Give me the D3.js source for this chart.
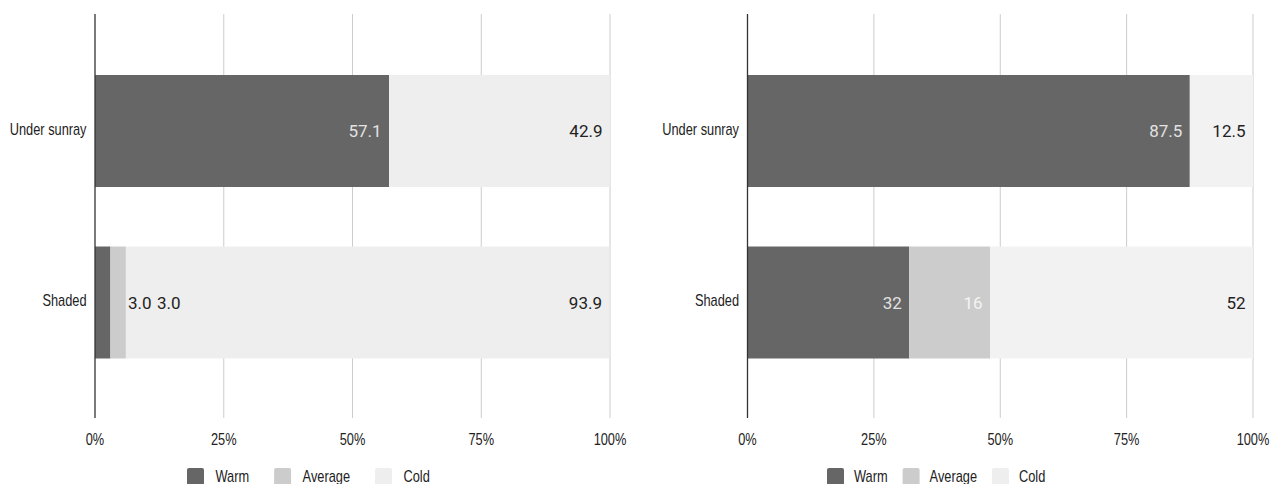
<!DOCTYPE html>
<html>
<head>
<meta charset="utf-8">
<script src="https://cdn.jsdelivr.net/npm/d3@7"></script>
<style>
  html, body { margin: 0; padding: 0; background: #fff; }
  svg { display: block; }
</style>
</head>
<body>
<svg id="chart" width="1271" height="484"></svg>
<script>
// ---- data ----
const categories = ["Under sunray", "Shaded"];
const seriesNames = ["Warm", "Average", "Cold"];
const tickValues = [0, 25, 50, 75, 100];
const tickLabels = ["0%", "25%", "50%", "75%", "100%"];

const leftWarm    = [57.1, 3.0];
const leftAverage = [0, 3.0];
const leftCold    = [42.9, 93.9];

const rightWarm    = [87.5, 32];
const rightAverage = [0, 16];
const rightCold    = [12.5, 52];

// ---- styles ----
const seriesColors = ["#666666", "#cccccc", "#eeeeee"];
const insideLabelColors = ["#e2e2e2", "#f4f4f4", "#222222"];
const SX = 0.8; // horizontal compression of axis/legend text seen in the reference

const svg = d3.select("#chart");

function drawChart(cfg) {
  const g = svg.append("g");
  const x = d3.scaleLinear().domain([0, 100]).range([cfg.x0, cfg.x1]);
  const y = d3.scaleBand().domain(categories).range([45.25, 388.25])
              .paddingInner(0.347).paddingOuter(0.1735);
  const gridTop = 14, gridBottom = 418;

  const rows = categories.map((c, i) => ({
    cat: c, Warm: cfg.warm[i], Average: cfg.average[i], Cold: cfg.cold[i]
  }));
  const stacked = d3.stack().keys(seriesNames)(rows);

  // gridlines
  g.append("g").selectAll("line").data(tickValues.slice(1)).join("line")
    .attr("x1", d => x(d)).attr("x2", d => x(d))
    .attr("y1", gridTop).attr("y2", gridBottom)
    .attr("stroke", "#cccccc").attr("stroke-width", 1);

  // bars
  const colors = cfg.colors;
  stacked.forEach((layer, si) => {
    g.append("g").selectAll("rect").data(layer.filter(d => d[1] - d[0] > 0)).join("rect")
      .attr("x", d => x(d[0]))
      .attr("width", d => x(d[1]) - x(d[0]))
      .attr("y", d => y(d.data.cat))
      .attr("height", y.bandwidth())
      .attr("fill", colors[si]);
  });

  // zero axis line
  g.append("line")
    .attr("x1", x(0)).attr("x2", x(0))
    .attr("y1", gridTop).attr("y2", gridBottom)
    .attr("stroke", "#333333").attr("stroke-width", 1.3);

  // data labels
  const labelFont = "Roboto, 'Noto Sans', sans-serif";
  categories.forEach((cat, ci) => {
    const cy = y(cat) + y.bandwidth() / 2;
    const segs = stacked.map((layer, si) => ({
      si, x0: x(layer[ci][0]), x1: x(layer[ci][1]), v: layer[ci][1] - layer[ci][0]
    })).filter(s => s.v > 0);
    const narrowEnd = d3.max(segs.filter(s => s.x1 - s.x0 < 40), s => s.x1);
    let outsideX = narrowEnd !== undefined ? narrowEnd + 2 : 0;
    segs.forEach(s => {
      const txt = cfg.fmt(s.v);
      if (s.x1 - s.x0 < 40) {
        g.append("text")
          .attr("x", outsideX).attr("y", cy)
          .attr("dy", "0.36em")
          .attr("text-anchor", "start")
          .attr("font-family", labelFont).attr("font-size", 17)
          .attr("fill", "#222222")
          .text(txt);
        outsideX += 29;
      } else {
        g.append("text")
          .attr("x", s.x1 - 7.5).attr("y", cy)
          .attr("dy", "0.36em")
          .attr("text-anchor", "end")
          .attr("font-family", labelFont).attr("font-size", 17)
          .attr("fill", insideLabelColors[s.si])
          .text(txt);
      }
    });
  });

  // category labels
  const axisFont = "'Liberation Sans', Arial, sans-serif";
  g.append("g").selectAll("text").data(categories).join("text")
    .attr("transform", d => `translate(${x(0) - 8.5},${y(d) + y.bandwidth() / 2 + 3.5}) scale(${SX},1)`)
    .attr("text-anchor", "end")
    .attr("font-family", axisFont).attr("font-size", 16)
    .attr("fill", "#222222")
    .text(d => d);

  // tick labels
  g.append("g").selectAll("text").data(tickValues).join("text")
    .attr("transform", d => `translate(${x(d)},444.5) scale(${SX},1)`)
    .attr("text-anchor", "middle")
    .attr("font-family", axisFont).attr("font-size", 16)
    .attr("fill", "#222222")
    .text((d, i) => tickLabels[i]);

  // legend
  const lg = g.append("g");
  let lx = cfg.legendX;
  seriesNames.forEach((name, i) => {
    lg.append("rect")
      .attr("x", lx).attr("y", 468).attr("width", 17).attr("height", 17)
      .attr("rx", 2).attr("fill", i === 2 ? "#eeeeee" : seriesColors[i]);
    const t = lg.append("text")
      .attr("transform", `translate(${lx + 17 + cfg.legendTextGap},482) scale(${SX},1)`)
      .attr("font-family", axisFont).attr("font-size", 16)
      .attr("fill", "#222222")
      .text(name);
    const w = t.node().getComputedTextLength() * SX;
    lx += 17 + cfg.legendTextGap + w + cfg.legendGap;
  });
}

drawChart({
  x0: 95, x1: 610, legendX: 187, legendTextGap: 11.5, legendGap: 25,
  warm: leftWarm, average: leftAverage, cold: leftCold,
  colors: ["#666666", "#cccccc", "#eeeeee"],
  fmt: v => d3.format(".1f")(v)
});
drawChart({
  x0: 747.5, x1: 1253, legendX: 827, legendTextGap: 10, legendGap: 15,
  warm: rightWarm, average: rightAverage, cold: rightCold,
  colors: ["#666666", "#cccccc", "#f2f2f2"],
  fmt: v => String(+v.toFixed(1))
});
</script>
</body>
</html>
